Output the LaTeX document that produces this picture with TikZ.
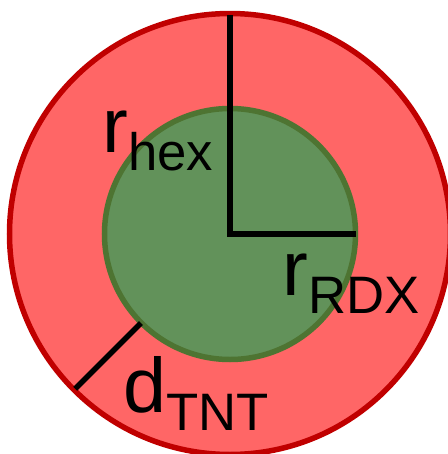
\documentclass[tikz,border=0pt]{standalone}
\usepackage{fontspec}
\setmainfont{Liberation Sans}
\definecolor{hexfill}{HTML}{FF6666}
\definecolor{hexline}{HTML}{C00000}
\definecolor{rdxfill}{HTML}{62925A}
\definecolor{rdxline}{HTML}{4E7432}
\newcommand{\lblsub}[1]{\raisebox{-10.4pt}{\fontsize{30}{30}\selectfont #1}}
\begin{document}
\begin{tikzpicture}[x=0.02cm,y=0.02cm]
\tikzstyle{lbl}=[inner sep=0,anchor=base west,font=\fontsize{44}{44}\selectfont]
\tikzstyle{radius line}=[line width=0.11cm,line join=miter]
\useasboundingbox (-230,-220) rectangle (218,234);
% charge and booster
\draw[line width=0.11cm,draw=hexline,fill=hexfill] (0,0) circle (220.5);
\draw[line width=0.11cm,draw=rdxline,fill=rdxfill] (0,0) circle (125.5);
\coordinate (c) at (0,0);
\coordinate (hextop) at (90:219);
\coordinate (rdxedge) at (0:126);
\coordinate (tntin) at (225:126);
\coordinate (tntout) at (225:219);
\draw[radius line] (hextop) -- (c) -- (rdxedge);
\draw[radius line] (tntin) -- (tntout);
\node[lbl] (rhex) at (-128,82) {r\lblsub{hex}};
\node[lbl] (rrdx) at (52,-61) {r\lblsub{RDX}};
\node[lbl] (dtnt) at (-107,-178) {d\lblsub{TNT}};
\end{tikzpicture}
\end{document}
